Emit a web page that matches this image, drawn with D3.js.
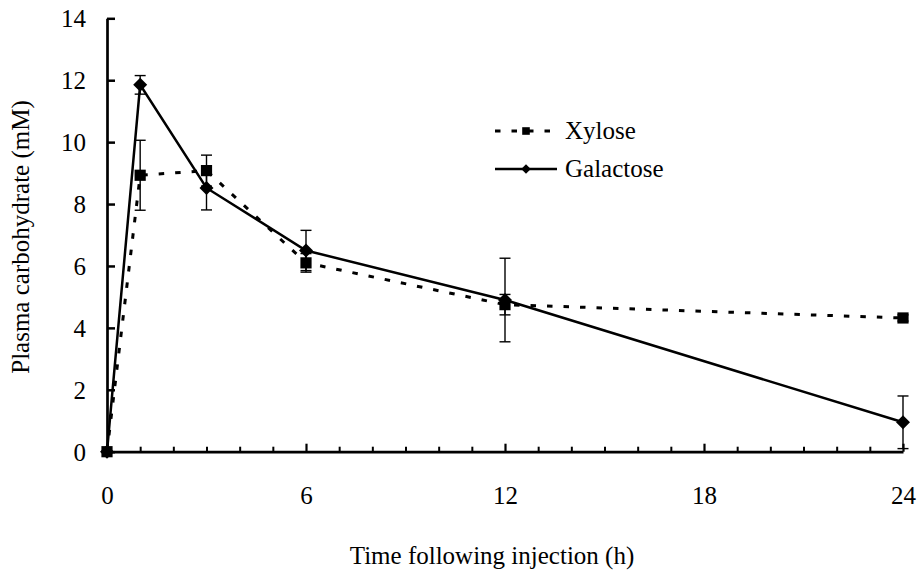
<!DOCTYPE html>
<html>
<head>
<meta charset="utf-8">
<script src="https://cdn.jsdelivr.net/npm/d3@7/dist/d3.min.js"></script>
<style>
  html, body { margin: 0; padding: 0; background: #fff; }
  svg { display: block; }
  svg text { font-family: "Liberation Serif", "Times New Roman", "DejaVu Serif", serif !important; fill: #000; }
</style>
</head>
<body>
<svg id="chart" width="920" height="578"></svg>
<script>
// ---- data ----
const times = [0, 1, 3, 6, 12, 24];
const xyloseValues = [0, 8.93, 9.08, 6.1, 4.75, 4.32];
const xyloseErrors = [0, 1.13, 0.5, 0.3, 0.33, 0.1];
const galactoseValues = [0, 11.85, 8.52, 6.5, 4.9, 0.95];
const galactoseErrors = [0, 0.3, 0.71, 0.65, 1.35, 0.85];
const xMajorTicks = [0, 6, 12, 18, 24];
const xMinorTicks = d3.range(1, 24).filter(v => v % 6 !== 0);
const yTicks = [0, 2, 4, 6, 8, 10, 12, 14];
const seriesNames = ["Xylose", "Galactose"];
const xTitle = "Time following injection (h)";
const yTitle = "Plasma carbohydrate (mM)";

const FONT = '"Liberation Serif", "Times New Roman", "DejaVu Serif", serif';
const FS = 25;

const svg = d3.select("#chart");
const x = d3.scaleLinear().domain([0, 24]).range([107, 903]);
const y = d3.scaleLinear().domain([0, 14]).range([451.7, 18.3]);

const series = [
  { name: seriesNames[0], values: xyloseValues, errors: xyloseErrors, dash: "5.5,11", width: 3, marker: "square" },
  { name: seriesNames[1], values: galactoseValues, errors: galactoseErrors, dash: null, width: 2.5, marker: "diamond" }
];

// ---- axes ----
const yAxis = d3.axisLeft(y).tickValues(yTicks).tickSizeInner(-8).tickSizeOuter(0).tickPadding(21);
const gy = svg.append("g").attr("transform", `translate(${x(0)},0)`).call(yAxis);
gy.attr("font-family", null).attr("font-size", null);
gy.select(".domain").attr("stroke-width", 2.7);
gy.selectAll(".tick line").attr("stroke-width", 2.5);
gy.selectAll(".tick text").style("font-family", FONT).style("font-size", FS + "px").attr("dy", "0.34em");

const xMinor = d3.axisBottom(x).tickValues(xMinorTicks).tickSizeInner(-5).tickSizeOuter(0).tickFormat("");
const gxm = svg.append("g").attr("transform", `translate(0,${y(0)})`).call(xMinor);
gxm.select(".domain").remove();
gxm.selectAll(".tick line").attr("stroke-width", 2);

const xAxis = d3.axisBottom(x).tickValues(xMajorTicks).tickSizeInner(-8).tickSizeOuter(0).tickPadding(35);
const gx = svg.append("g").attr("transform", `translate(0,${y(0)})`).call(xAxis);
gx.attr("font-family", null).attr("font-size", null);
gx.select(".domain").attr("stroke-width", 2.7);
gx.selectAll(".tick line").attr("stroke-width", 2.2);
gx.selectAll(".tick text").style("font-family", FONT).style("font-size", FS + "px");

// ---- titles ----
svg.append("text").attr("x", 492).attr("y", 564).attr("text-anchor", "middle")
  .style("font-family", FONT).style("font-size", FS + "px").text(xTitle);
svg.append("text").attr("transform", `translate(29,237) rotate(-90)`).attr("text-anchor", "middle")
  .style("font-family", FONT).style("font-size", FS + "px").text(yTitle);

// ---- lines ----
const line = d3.line().x((d, i) => x(times[i])).y(d => y(d));
[series[1], series[0]].forEach(s => {
  svg.append("path").datum(s.values).attr("d", line)
    .attr("fill", "none").attr("stroke", "#000").attr("stroke-width", s.width)
    .attr("stroke-dasharray", s.dash);
});

// ---- error bars ----
const cap = 5.5;
series.forEach(s => {
  const g = svg.append("g").attr("stroke", "#000").attr("stroke-width", 1.4);
  s.values.forEach((v, i) => {
    const e = s.errors[i];
    if (!e) return;
    const cx = x(times[i]);
    g.append("line").attr("x1", cx).attr("x2", cx).attr("y1", y(v - e)).attr("y2", y(v + e));
    g.append("line").attr("x1", cx - cap).attr("x2", cx + cap).attr("y1", y(v + e)).attr("y2", y(v + e));
    g.append("line").attr("x1", cx - cap).attr("x2", cx + cap).attr("y1", y(v - e)).attr("y2", y(v - e));
  });
});

// ---- markers ----
function markerPath(type, r) {
  if (type === "square") return `M${-r},${-r}H${r}V${r}H${-r}Z`;
  return `M0,${-r * 1.25}L${r * 1.25},0L0,${r * 1.25}L${-r * 1.25},0Z`;
}
series.forEach(s => {
  svg.append("g").selectAll("path").data(s.values).join("path")
    .attr("transform", (d, i) => `translate(${x(times[i])},${y(d)})`)
    .attr("d", markerPath(s.marker, 5.6)).attr("fill", "#000");
});

// ---- legend ----
const legendY = [131, 169];
series.forEach((s, i) => {
  const g = svg.append("g").attr("transform", `translate(0,${legendY[i]})`);
  g.append("line").attr("x1", 495).attr("x2", 557).attr("y1", 0).attr("y2", 0)
    .attr("stroke", "#000").attr("stroke-width", s.width).attr("stroke-dasharray", s.dash);
  g.append("path").attr("transform", "translate(526,0)").attr("d", markerPath(s.marker, 3.8)).attr("fill", "#000");
  g.append("text").attr("x", 565).attr("y", 0).attr("dy", "0.33em")
    .style("font-family", FONT).style("font-size", FS + "px").text(s.name);
});
</script>
</body>
</html>
